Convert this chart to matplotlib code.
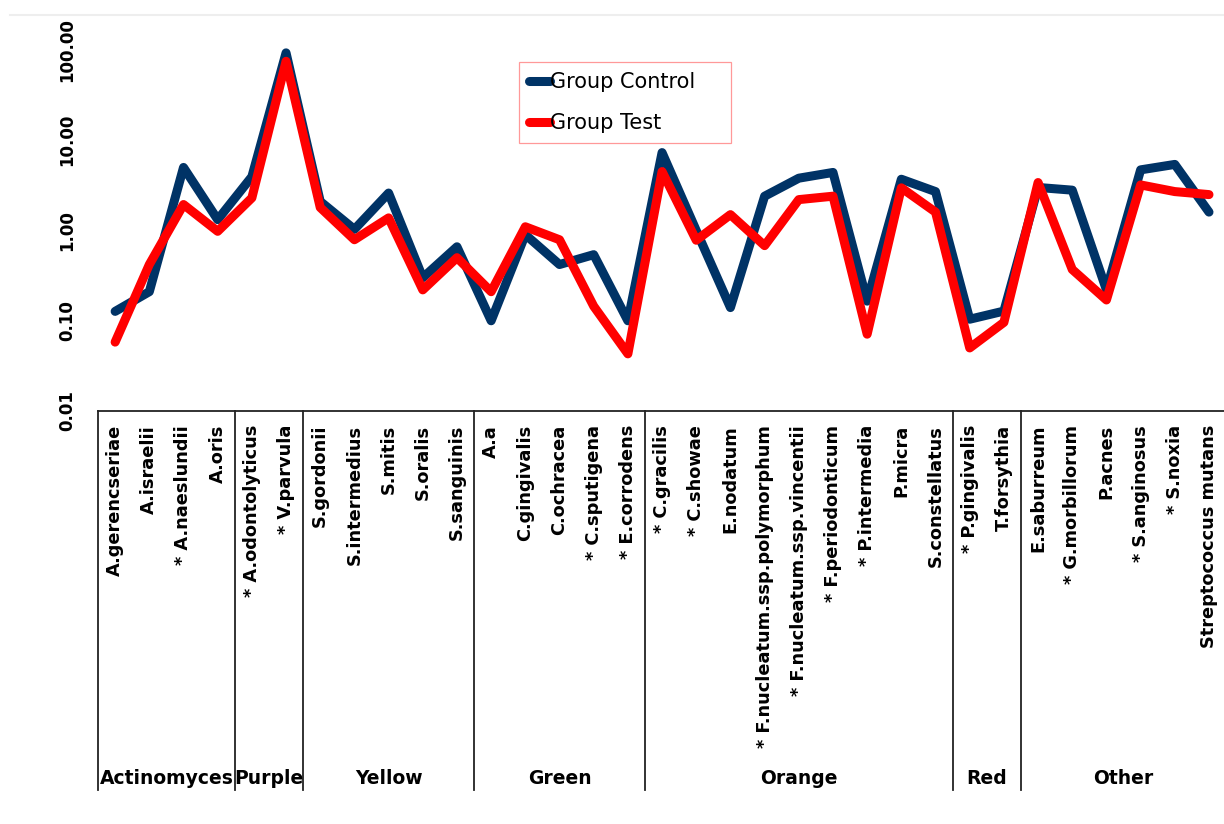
import matplotlib

matplotlib.use("Agg")
import matplotlib.pyplot as plt
from matplotlib.lines import Line2D
from matplotlib.transforms import blended_transform_factory
from matplotlib.ticker import FixedLocator, FixedFormatter

# ----- data --------------------------------------------------------------
species = [
    "A.gerencseriae", "A.israelii", "* A.naeslundii", "A.oris",
    "* A.odontolyticus", "* V.parvula",
    "S.gordonii", "S.intermedius", "S.mitis", "S.oralis", "S.sanguinis",
    "A.a", "C.gingivalis", "C.ochracea", "* C.sputigena", "* E.corrodens",
    "* C.gracilis", "* C.showae", "E.nodatum", "* F.nucleatum.ssp.polymorphum",
    "* F.nucleatum.ssp.vincentii", "* F.periodonticum", "* P.intermedia",
    "P.micra", "S.constellatus",
    "* P.gingivalis", "T.forsythia",
    "E.saburreum", "* G.morbillorum", "P.acnes", "* S.anginosus", "* S.noxia",
    "Streptococcus mutans",
]
groups = ["Actinomyces", "Purple", "Yellow", "Green", "Orange", "Red", "Other"]
group_sizes = [4, 2, 5, 5, 9, 2, 6]

control = [
    0.127, 0.21, 5.0, 1.32,
    3.95, 93.0,
    2.1, 1.03, 2.6, 0.30, 0.66,
    0.10, 0.90, 0.42, 0.54, 0.10,
    7.3, 1.0, 0.14, 2.4, 3.8, 4.4, 0.165, 3.7, 2.7,
    0.104, 0.128,
    3.0, 2.8, 0.22, 4.7, 5.4, 1.6,
]
test = [
    0.058, 0.42, 1.94, 0.98,
    2.3, 75.0,
    1.8, 0.79, 1.38, 0.22, 0.50,
    0.21, 1.1, 0.79, 0.145, 0.043,
    4.5, 0.78, 1.5, 0.68, 2.2, 2.4, 0.071, 2.97, 1.6,
    0.05, 0.096,
    3.4, 0.37, 0.17, 3.2, 2.7, 2.5,
]
y_ticks = [0.01, 0.1, 1, 10, 100]

NAVY = "#003366"
RED = "#ff0000"
LW = 6.5
# -------------------------------------------------------------------------

fig = plt.figure(figsize=(12.24, 8.24), dpi=100)
ax = fig.add_axes([0.0801, 0.5012, 0.9216, 0.4381])

x = list(range(len(species)))
ax.plot(x, control, color=NAVY, lw=LW, solid_capstyle="round",
        solid_joinstyle="round", label="Group Control", clip_on=False, zorder=3)
ax.plot(x, test, color=RED, lw=LW, solid_capstyle="round",
        solid_joinstyle="round", label="Group Test", clip_on=False, zorder=4)

ax.set_yscale("log")
ax.set_ylim(0.01, 100)
ax.set_xlim(-0.5, len(species) - 0.5)
ax.yaxis.set_major_locator(FixedLocator(y_ticks))
ax.yaxis.set_major_formatter(FixedFormatter([f"{v:.2f}" for v in y_ticks]))
ax.yaxis.set_minor_locator(FixedLocator([]))
ax.tick_params(axis="y", length=0, pad=16, labelsize=12, labelrotation=90)
for lab in ax.get_yticklabels():
    lab.set_fontweight("bold")
    lab.set_va("center")

ax.set_xticks(x)
ax.set_xticklabels(species, rotation=90, fontsize=12.8, fontweight="bold",
                   va="top", ha="center")
ax.tick_params(axis="x", length=0, pad=10)

for side in ("left", "top", "right"):
    ax.spines[side].set_visible(False)
ax.spines["bottom"].set_linewidth(1.3)
ax.spines["bottom"].set_color("#222222")

# group separators and group names under the category labels
trans = blended_transform_factory(ax.transData, fig.transFigure)
bounds = [-0.5]
for n in group_sizes:
    bounds.append(bounds[-1] + n)
y_axis_fig = 0.5012
for b in bounds:
    ax.plot([b, b], [y_axis_fig, 0.041], color="#222222", lw=1.3,
            transform=trans, clip_on=False)
for g, lo, hi in zip(groups, bounds[:-1], bounds[1:]):
    ax.text((lo + hi) / 2, 0.0558, g, transform=trans, ha="center",
            va="center", fontsize=13.5, fontweight="bold")

# faint chart border line along the top
fig.add_artist(Line2D([0.008, 1.0], [0.982, 0.982], color="#eeeeee", lw=1.5,
                      transform=fig.transFigure))

# legend box spans a fixed width, entries centred inside it
leg = ax.legend(loc="upper left",
                bbox_to_anchor=(519 / 1224, 1 - 143 / 824, 212 / 1224, 81 / 824),
                bbox_transform=fig.transFigure, mode="expand", alignment="center",
                fontsize=15, frameon=True, fancybox=False, handlelength=1.0,
                handletextpad=0.0, labelspacing=1.0, borderpad=0.48,
                borderaxespad=0.0)
leg.get_frame().set_edgecolor("#ff8080")
leg.get_frame().set_linewidth(0.9)
for h in leg.get_lines():
    h.set_linewidth(LW)
    h.set_solid_capstyle("round")

fig.savefig("out.png", dpi=100)
